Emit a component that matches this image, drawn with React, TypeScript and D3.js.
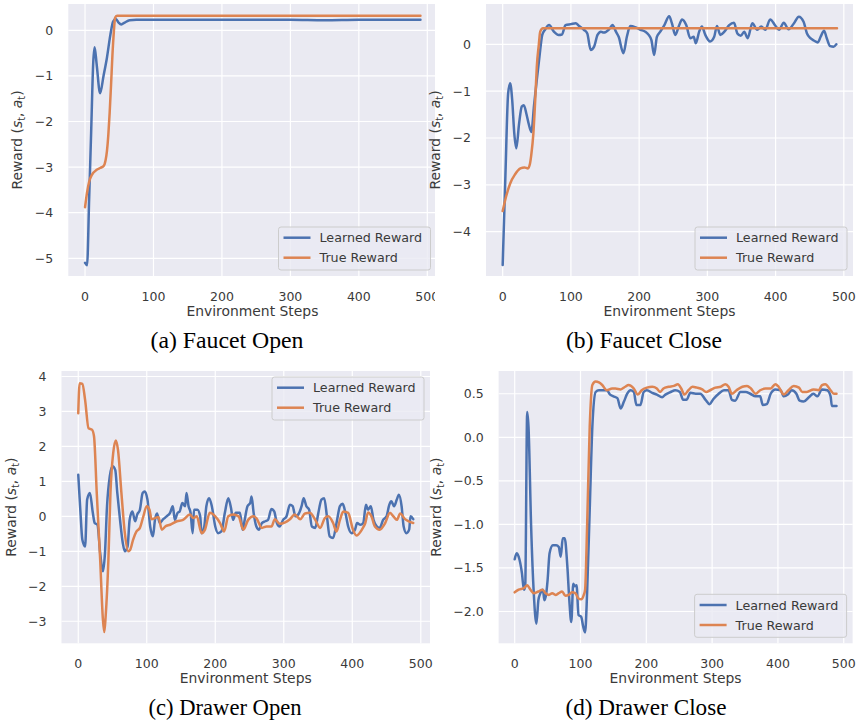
import React from 'react';
import * as d3 from 'd3';

// ---------------- data ----------------
const seriesNames = ['Learned Reward', 'True Reward'];
const captions = ['(a) Faucet Open', '(b) Faucet Close', '(c) Drawer Open', '(d) Drawer Close'];
const xTickValues = [0, 100, 200, 300, 400, 500];

const aYTicks = [0, -1, -2, -3, -4, -5];
const bYTicks = [0, -1, -2, -3, -4];
const cYTicks = [4, 3, 2, 1, 0, -1, -2, -3];
const dYTicks = [0.5, 0.0, -0.5, -1.0, -1.5, -2.0];

// (a) Faucet Open
const aLearnedSteps = [0, 3, 6, 9, 12, 14, 17, 22, 27, 32, 37, 41, 45, 49, 53, 58, 65, 75, 100, 200, 300, 350, 400, 490];
const aLearnedValues = [-5.1, -5.15, -3.7, -2.2, -0.7, -0.37, -0.75, -1.38, -1.0, -0.6, -0.1, 0.19, 0.25, 0.17, 0.13, 0.17, 0.22, 0.23, 0.23, 0.23, 0.23, 0.22, 0.23, 0.23];
const aTrueSteps = [0, 3, 6, 10, 17, 22, 27, 30, 32, 34, 36, 38, 40, 42, 44, 47, 490];
const aTrueValues = [-3.88, -3.55, -3.32, -3.17, -3.06, -3.02, -2.98, -2.85, -2.65, -2.3, -1.8, -1.2, -0.55, -0.05, 0.28, 0.32, 0.32];

// (b) Faucet Close
const bLearnedSteps = [0, 4, 8, 11, 14, 17, 20, 24, 28, 31, 35, 38, 42, 46, 50, 54, 58, 62, 68, 75, 82, 87, 92, 100, 107, 112, 119, 124, 129, 134, 139, 144, 148, 156, 161, 166, 170, 177, 182, 187, 195, 202, 209, 214, 218, 222, 226, 231, 237, 244, 248, 253, 258, 263, 269, 275, 280, 283, 288, 292, 297, 304, 310, 314, 319, 325, 332, 339, 344, 349, 354, 359, 366, 373, 379, 385, 392, 400, 405, 412, 419, 427, 434, 441, 446, 451, 456, 462, 466, 471, 475, 480, 485, 489];
const bLearnedValues = [-4.71, -2.8, -1.05, -0.83, -1.2, -1.9, -2.22, -1.7, -1.33, -1.3, -1.5, -1.69, -1.87, -1.3, -0.76, -0.25, 0.2, 0.31, 0.41, 0.27, 0.2, 0.21, 0.41, 0.43, 0.45, 0.39, 0.31, 0.23, -0.12, -0.05, 0.2, 0.27, 0.25, 0.32, 0.41, 0.27, 0.16, -0.19, 0.16, 0.39, 0.36, 0.31, 0.27, 0.2, 0.09, -0.23, 0.16, 0.27, 0.41, 0.6, 0.45, 0.2, 0.38, 0.53, 0.41, 0.13, 0.16, 0.02, 0.27, 0.38, 0.2, 0.06, 0.16, 0.39, 0.2, 0.27, 0.41, 0.46, 0.23, 0.18, 0.27, 0.13, 0.45, 0.31, 0.38, 0.31, 0.53, 0.39, 0.31, 0.46, 0.32, 0.45, 0.59, 0.48, 0.23, 0.13, 0.08, 0.04, 0.16, 0.29, 0.13, -0.04, -0.05, 0.0];
const bTrueSteps = [0, 5, 11, 18, 26, 32, 37, 40, 42, 45, 48, 50, 53, 55, 59, 490];
const bTrueValues = [-3.56, -3.25, -2.97, -2.78, -2.65, -2.63, -2.65, -2.55, -2.35, -1.9, -1.1, -0.48, 0.0, 0.27, 0.34, 0.34];

// (c) Drawer Open
const cLearnedSteps = [0, 3, 6, 10, 13, 17, 21, 24, 28, 32, 36, 39, 42, 46, 50, 54, 57, 61, 65, 68, 72, 75, 79, 83, 86, 90, 94, 97, 101, 105, 109, 112, 115, 119, 124, 129, 134, 138, 141, 145, 148, 152, 156, 158, 161, 164, 167, 169, 174, 178, 180, 184, 187, 191, 195, 200, 204, 209, 214, 219, 223, 226, 230, 236, 240, 243, 247, 251, 253, 256, 260, 264, 268, 273, 277, 282, 286, 290, 294, 299, 304, 309, 313, 317, 321, 326, 329, 333, 337, 341, 346, 350, 355, 359, 363, 367, 372, 377, 382, 386, 390, 394, 399, 404, 407, 412, 416, 420, 423, 427, 431, 436, 440, 445, 450, 454, 457, 461, 465, 468, 472, 475, 479, 483, 485, 489];
const cLearnedValues = [1.19, 0.19, -0.67, -0.86, 0.48, 0.67, 0.14, -0.19, -0.24, -1.05, -1.57, -1.05, 0.29, 1.14, 1.43, 1.33, 0.67, -0.1, -0.76, -1.0, -0.86, -0.1, 0.14, -0.14, 0.05, 0.19, 0.67, 0.71, 0.48, -0.29, -0.57, -0.1, 0.08, -0.19, -0.08, 0.0, 0.1, 0.29, -0.1, 0.1, 0.14, 0.38, 0.29, 0.67, 0.29, 0.1, -0.48, 0.19, 0.19, 0.0, -0.48, -0.29, 0.29, 0.52, 0.29, -0.29, -0.48, -0.43, 0.1, 0.52, 0.24, -0.1, 0.1, 0.1, -0.38, -0.1, 0.29, 0.38, 0.57, 0.1, -0.29, -0.38, -0.19, -0.14, -0.1, 0.21, 0.14, -0.19, -0.29, -0.1, 0.0, 0.33, 0.29, 0.0, 0.05, 0.29, 0.52, 0.29, 0.19, -0.29, -0.33, 0.05, 0.48, 0.52, 0.0, -0.57, -0.62, -0.19, 0.29, 0.36, 0.1, -0.29, -0.48, -0.38, -0.19, -0.24, -0.19, 0.33, 0.19, 0.29, -0.1, -0.29, -0.33, -0.1, 0.0, 0.33, 0.43, 0.29, 0.48, 0.62, 0.29, -0.29, -0.48, -0.38, 0.0, -0.08];
const cTrueSteps = [0, 2, 6, 10, 15, 20, 23, 27, 32, 36, 38, 40, 44, 47, 51, 55, 58, 63, 68, 73, 76, 80, 85, 90, 95, 100, 104, 107, 112, 117, 122, 127, 134, 144, 153, 163, 168, 173, 180, 185, 192, 200, 207, 213, 219, 226, 234, 241, 248, 256, 260, 268, 275, 282, 287, 294, 302, 309, 316, 324, 331, 338, 346, 353, 360, 365, 372, 377, 382, 387, 394, 401, 406, 414, 419, 423, 428, 433, 440, 448, 455, 460, 465, 470, 477, 482, 489];
const cTrueValues = [2.95, 3.81, 3.79, 3.33, 2.52, 2.48, 2.29, 0.67, -1.24, -2.95, -3.31, -2.86, -1.24, 0.67, 1.81, 2.17, 1.9, 0.67, -0.48, -1.0, -0.95, -0.67, -0.43, -0.33, 0.0, 0.29, 0.19, -0.08, -0.05, -0.02, -0.38, -0.29, -0.24, -0.14, -0.1, 0.05, -0.05, 0.0, -0.48, -0.38, 0.1, 0.0, -0.19, -0.43, 0.0, 0.05, 0.0, -0.38, -0.1, 0.0, -0.05, -0.33, -0.29, -0.29, -0.08, -0.21, -0.17, -0.08, 0.05, -0.08, 0.08, 0.1, -0.1, -0.33, -0.05, 0.0, -0.19, -0.43, -0.1, 0.14, 0.1, -0.38, -0.55, -0.38, -0.19, 0.11, 0.0, -0.29, -0.38, -0.19, 0.1, 0.0, -0.1, 0.08, -0.08, -0.14, -0.19];

// (d) Drawer Close
const dLearnedSteps = [0, 3, 6, 11, 14, 16, 19, 21, 25, 29, 33, 36, 39, 43, 45, 48, 50, 53, 58, 63, 67, 70, 73, 76, 80, 83, 86, 89, 91, 94, 97, 101, 104, 107, 110, 114, 118, 123, 128, 133, 140, 145, 150, 156, 161, 166, 171, 176, 181, 185, 191, 196, 201, 209, 216, 224, 229, 237, 244, 251, 256, 261, 267, 275, 282, 290, 296, 302, 310, 318, 325, 330, 335, 343, 351, 358, 366, 373, 377, 383, 389, 396, 404, 409, 415, 421, 428, 433, 439, 447, 454, 460, 467, 475, 480, 482, 489];
const dLearnedValues = [-1.4, -1.33, -1.37, -1.56, -1.75, -1.71, 0.29, 0.12, -1.03, -1.79, -2.14, -1.87, -1.79, -1.75, -1.87, -1.79, -1.64, -1.33, -1.24, -1.24, -1.26, -1.37, -1.16, -1.16, -1.48, -1.87, -2.12, -1.68, -1.71, -1.7, -2.04, -2.06, -2.17, -2.24, -1.79, -0.83, 0.12, 0.52, 0.54, 0.54, 0.54, 0.49, 0.47, 0.45, 0.33, 0.41, 0.5, 0.54, 0.52, 0.37, 0.37, 0.52, 0.54, 0.51, 0.49, 0.46, 0.49, 0.52, 0.54, 0.52, 0.43, 0.43, 0.51, 0.5, 0.5, 0.43, 0.38, 0.44, 0.5, 0.54, 0.54, 0.43, 0.42, 0.52, 0.52, 0.5, 0.47, 0.47, 0.37, 0.38, 0.5, 0.55, 0.54, 0.47, 0.49, 0.54, 0.5, 0.42, 0.41, 0.46, 0.5, 0.47, 0.55, 0.54, 0.47, 0.36, 0.36];
const dTrueSteps = [0, 6, 14, 19, 24, 29, 36, 42, 47, 52, 57, 62, 67, 72, 77, 82, 87, 92, 97, 101, 105, 107, 110, 114, 118, 123, 128, 133, 140, 148, 153, 161, 168, 173, 181, 187, 193, 201, 209, 216, 221, 226, 234, 242, 248, 253, 258, 264, 270, 277, 285, 291, 297, 305, 313, 320, 325, 330, 337, 346, 353, 359, 366, 373, 381, 389, 396, 401, 409, 416, 424, 432, 437, 444, 454, 462, 467, 472, 480, 485, 489];
const dTrueValues = [-1.78, -1.75, -1.73, -1.7, -1.75, -1.79, -1.77, -1.75, -1.79, -1.81, -1.79, -1.81, -1.79, -1.77, -1.82, -1.81, -1.78, -1.79, -1.85, -1.86, -1.81, -1.75, -1.03, 0.12, 0.6, 0.64, 0.63, 0.6, 0.54, 0.56, 0.56, 0.55, 0.58, 0.6, 0.56, 0.49, 0.54, 0.57, 0.58, 0.56, 0.52, 0.56, 0.58, 0.59, 0.61, 0.56, 0.49, 0.54, 0.58, 0.57, 0.55, 0.52, 0.54, 0.57, 0.58, 0.61, 0.58, 0.5, 0.54, 0.58, 0.59, 0.56, 0.5, 0.54, 0.56, 0.56, 0.61, 0.58, 0.49, 0.54, 0.59, 0.57, 0.52, 0.52, 0.55, 0.54, 0.6, 0.61, 0.54, 0.5, 0.5];

// ---------------- styling / layout ----------------
const BLUE = '#4C72B0';
const ORANGE = '#DD8452';
const BG = '#EAEAF2';
const TEXT = '#3a3a3a';
const FONT = '"DejaVu Sans", Verdana, sans-serif';
const SERIF = '"Liberation Serif", "Times New Roman", serif';
const X_DOMAIN: [number, number] = [-24.45, 513.45];
const LW = 2.5;

type Loc = 'lower right' | 'upper right';
interface PanelCfg {
  left: number; right: number; top: number; bottom: number;
  yDomain: [number, number];
  yTicks: number[];
  decimals: number;
  ylabelOffset: number;
  legend: Loc;
  learned: [number[], number[]];
  truth: [number[], number[]];
  caption: string;
  capX: number; capY: number; capLen: number;
  clip?: number;
}

const panels: PanelCfg[] = [
  { left: 68.3, right: 436.5, top: 4, bottom: 276, yDomain: [-5.388, 0.577], yTicks: aYTicks, decimals: 0, ylabelOffset: 46, legend: 'lower right', learned: [aLearnedSteps, aLearnedValues], truth: [aTrueSteps, aTrueValues], caption: captions[0], capX: 227, capY: 348, capLen: 153, clip: 435 },
  { left: 486, right: 853, top: 4, bottom: 276, yDomain: [-4.946, 0.86], yTicks: bYTicks, decimals: 0, ylabelOffset: 46, legend: 'lower right', learned: [bLearnedSteps, bLearnedValues], truth: [bTrueSteps, bTrueValues], caption: captions[1], capX: 644, capY: 348, capLen: 156 },
  { left: 61.5, right: 430, top: 371, bottom: 643.3, yDomain: [-3.63, 4.157], yTicks: cYTicks, decimals: 0, ylabelOffset: 46, legend: 'upper right', learned: [cLearnedSteps, cLearnedValues], truth: [cTrueSteps, cTrueValues], caption: captions[2], capX: 225, capY: 715, capLen: 153, clip: 435 },
  { left: 498.6, right: 852.6, top: 371, bottom: 643.3, yDomain: [-2.365, 0.761], yTicks: dYTicks, decimals: 1, ylabelOffset: 57.6, legend: 'lower right', learned: [dLearnedSteps, dLearnedValues], truth: [dTrueSteps, dTrueValues], caption: captions[3], capX: 646, capY: 715, capLen: 161 },
];

const fmt = (v: number, dec: number) => {
  const s = Math.abs(v).toFixed(dec);
  return v < 0 ? '\u2212' + s : s;
};

function Panel({ cfg, idx }: { cfg: PanelCfg; idx: number }) {
  const x = d3.scaleLinear().domain(X_DOMAIN).range([cfg.left, cfg.right]);
  const y = d3.scaleLinear().domain(cfg.yDomain).range([cfg.bottom, cfg.top]);
  const line = d3.line<[number, number]>().x(d => x(d[0])).y(d => y(d[1])).curve(d3.curveMonotoneX);
  const toPts = (s: [number[], number[]]) => s[0].map((v, i) => [v, s[1][i]] as [number, number]);
  const clipId = `clip-${idx}`;
  const plotClipId = `plotclip-${idx}`;

  const legW = 152, legH = 43;
  const legX = cfg.right - 6 - legW;
  const legY = cfg.legend === 'lower right' ? cfg.bottom - 6 - legH : cfg.top + 6;
  const ylabX = cfg.left - cfg.ylabelOffset;
  const ylabY = (cfg.top + cfg.bottom) / 2;

  return (
    <g>
      <defs>
        {cfg.clip !== undefined && (
          <clipPath id={clipId}><rect x={0} y={0} width={cfg.clip} height={722} /></clipPath>
        )}
        <clipPath id={plotClipId}><rect x={cfg.left} y={cfg.top} width={cfg.right - cfg.left} height={cfg.bottom - cfg.top} /></clipPath>
      </defs>
      <g clipPath={cfg.clip !== undefined ? `url(#${clipId})` : undefined}>
        <rect x={cfg.left} y={cfg.top} width={cfg.right - cfg.left} height={cfg.bottom - cfg.top} fill={BG} />
        {xTickValues.map(t => (
          <line key={'gx' + t} x1={x(t)} x2={x(t)} y1={cfg.top} y2={cfg.bottom} stroke="#fff" strokeWidth={1.2} />
        ))}
        {cfg.yTicks.map(t => (
          <line key={'gy' + t} x1={cfg.left} x2={cfg.right} y1={y(t)} y2={y(t)} stroke="#fff" strokeWidth={1.2} />
        ))}
        <g clipPath={`url(#${plotClipId})`}>
          <path d={line(toPts(cfg.learned)) || ''} fill="none" stroke={BLUE} strokeWidth={LW} strokeLinejoin="round" strokeLinecap="round" />
          <path d={line(toPts(cfg.truth)) || ''} fill="none" stroke={ORANGE} strokeWidth={LW} strokeLinejoin="round" strokeLinecap="round" />
        </g>
        {xTickValues.map(t => (
          <text key={'tx' + t} x={x(t)} y={cfg.bottom + 25} textAnchor="middle" fontFamily={FONT} fontSize={12.5} fill={TEXT}>{t}</text>
        ))}
        {/* legend */}
        <rect x={legX} y={legY} width={legW} height={legH} rx={2.5} fill={BG} fillOpacity={0.8} stroke="#cccccc" strokeWidth={1} />
        {seriesNames.map((name, i) => {
          const ry = legY + 10.7 + i * 20;
          return (
            <g key={name}>
              <line x1={legX + 5} x2={legX + 32} y1={ry} y2={ry} stroke={i === 0 ? BLUE : ORANGE} strokeWidth={LW} />
              <text x={legX + 41} y={ry + 4.5} fontFamily={FONT} fontSize={12.7} fill={TEXT}>{name}</text>
            </g>
          );
        })}
      </g>
      {cfg.yTicks.map(t => (
        <text key={'ty' + t} x={cfg.left - 15} y={y(t) + 4.5} textAnchor="end" fontFamily={FONT} fontSize={12.5} fill={TEXT}>{fmt(t, cfg.decimals)}</text>
      ))}
      <text x={(cfg.left + cfg.right) / 2} y={cfg.bottom + 40} textAnchor="middle" fontFamily={FONT} fontSize={13.9} fill={TEXT}>Environment Steps</text>
      <text transform={`translate(${ylabX},${ylabY}) rotate(-90)`} textAnchor="middle" fontFamily={FONT} fontSize={13.9} fill={TEXT}>
        Reward (<tspan fontStyle="italic">s</tspan><tspan fontSize={9.7} dy={3}>t</tspan><tspan dy={-3}>, </tspan><tspan fontStyle="italic">a</tspan><tspan fontSize={9.7} dy={3}>t</tspan><tspan dy={-3}>)</tspan>
      </text>
      <text x={cfg.capX} y={cfg.capY} textAnchor="middle" fontFamily={SERIF} fontSize={22.5} fill="#000" textLength={cfg.capLen} lengthAdjust="spacingAndGlyphs">{cfg.caption}</text>
    </g>
  );
}

export default function App() {
  return (
    <svg width={857} height={722} viewBox="0 0 857 722" style={{ position: 'absolute', left: 0, top: 0, background: '#fff' }}>
      <rect x={0} y={0} width={857} height={722} fill="#fff" />
      {panels.map((p, i) => <Panel key={i} cfg={p} idx={i} />)}
    </svg>
  );
}
